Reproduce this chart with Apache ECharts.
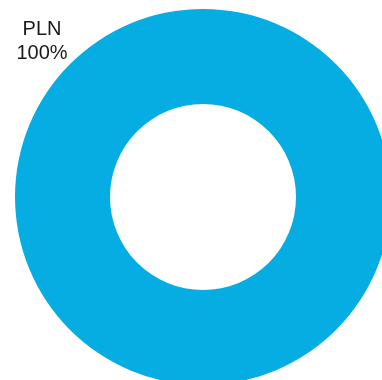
<!DOCTYPE html>
<html>
<head>
<meta charset="utf-8">
<style>
html, body { margin: 0; padding: 0; background: #fff; }
#container { width: 382px; height: 380px; }
</style>
<script src="https://cdn.jsdelivr.net/npm/echarts@6/dist/echarts.min.js"></script>
</head>
<body>
<div id="container"></div>
<script>
var categories = ['PLN'];
var values = [100];
var colors = ['#05ADE3'];

var dom = document.getElementById('container');
var myChart = echarts.init(dom, null, { renderer: 'canvas' });

var total = values.reduce(function (a, b) { return a + b; }, 0);

var option = {
    animation: false,
    color: colors,
    series: [
        {
            type: 'pie',
            center: [203, 197],
            radius: [93, 188],
            silent: true,
            label: {
                show: true,
                position: 'outside',
                color: '#1a1a1a',
                fontFamily: 'Liberation Sans, Arial, sans-serif',
                fontSize: 20,
                lineHeight: 24,
                align: 'center',
                formatter: function (p) {
                    return p.name + '\n' + Math.round(p.value / total * 100) + '%';
                }
            },
            labelLine: { show: false },
            labelLayout: {
                x: 42,
                y: 41,
                align: 'center',
                verticalAlign: 'middle'
            },
            data: categories.map(function (c, i) {
                return { name: c, value: values[i] };
            })
        }
    ]
};

myChart.setOption(option);
window.addEventListener('resize', myChart.resize);
</script>
</body>
</html>
